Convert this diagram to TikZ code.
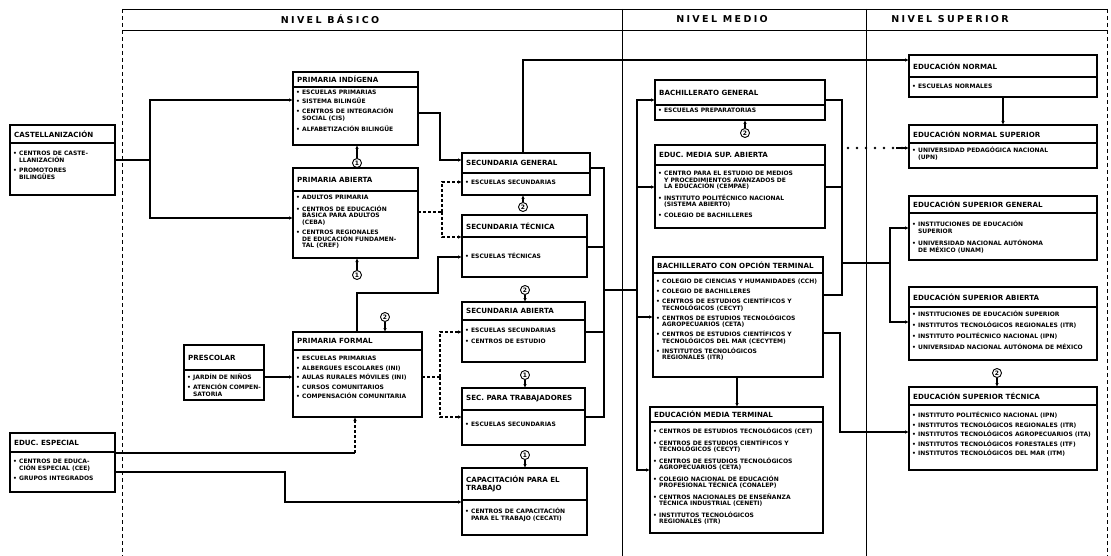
\documentclass[tikz,border=0pt]{standalone}
\usepackage{fontspec}
\setmainfont{DejaVu Sans}
\usetikzlibrary{arrows.meta,calc}
\newcommand\bu{\textbullet\ }
\newcommand\ind{\hphantom{\textbullet\ }}
\tikzset{
  ln/.style={line width=1.1pt},
  ar/.style={line width=1.1pt,-{Latex[length=4pt,width=3.5pt]}},
  dsh/.style={line width=1.1pt,dash pattern=on 3pt off 2pt},
  dar/.style={line width=1.1pt,dash pattern=on 3pt off 2pt,-{Latex[length=4pt,width=3.5pt]}},
  ebox/.style={draw,line width=1.1pt,inner sep=0pt,outer sep=0pt,anchor=north west},
  ttl/.style={anchor=west,inner sep=0pt,align=left,font=\fontsize{7.1}{8}\selectfont\bfseries},
  itm/.style={anchor=north west,inner sep=0pt,align=left,font=\fontsize{6}{6.5}\selectfont\bfseries},
  circ/.style={draw,circle,line width=0.9pt,inner sep=0pt,minimum size=9pt,font=\fontsize{6}{6}\selectfont\bfseries},
  hdr/.style={inner sep=0pt,font=\fontsize{9.5}{10}\selectfont\bfseries\addfontfeature{LetterSpace=25}},
  border/.style={line width=0.8pt},
  dots/.style={line width=2.6pt,line cap=round,dash pattern=on 0pt off 9pt}
}
% name, left, top, right, bottom, header line, title, items, item offset
\newcommand\ebx[9]{%
  \node[ebox,minimum width={(#4)-(#2)},minimum height={(#5)-(#3)}] (#1) at (#2,#3) {};
  \draw[ln] (#1.west |- 0,#6) -- (#1.east |- 0,#6);
  \node[ttl] (#1-t) at (#2+4,{(#3+#6)/2}) {#7};
  \node[itm] (#1-i) at (#2+3,#6+#9) {#8};
}
\begin{document}
\begin{tikzpicture}[x=1pt,y=-1pt]
\useasboundingbox (0,0) rectangle (1111,556);
% header and column borders
\draw[border] (122,9) -- (1107,9);
\draw[border] (122,30) -- (1107,30);
\draw[border,dash pattern=on 4pt off 3pt] (122,9) -- (122,556);
\draw[border] (622,9) -- (622,556);
\draw[border] (866,9) -- (866,556);
\draw[border,dash pattern=on 4pt off 3pt] (1107,9) -- (1107,556);
\node[hdr] (h1) at (330,19) {NIVEL BÁSICO};
\node[hdr] (h2) at (722,19) {NIVEL MEDIO};
\node[hdr] (h3) at (950,19) {NIVEL SUPERIOR};

% boxes
\ebx{cast}{10}{125}{115}{195}{143}{CASTELLANIZACIÓN}{\bu CENTROS DE CASTE-\\\ind LLANIZACIÓN\\[4pt]\bu PROMOTORES\\\ind BILINGÜES}{8}
\ebx{esp}{10}{433}{115}{492}{452}{EDUC. ESPECIAL}{\bu CENTROS DE EDUCA-\\\ind CIÓN ESPECIAL (CEE)\\[4pt]\bu GRUPOS INTEGRADOS}{7}
\ebx{pind}{293}{72}{418}{145}{87}{PRIMARIA INDÍGENA}{\bu ESCUELAS PRIMARIAS\\[2pt]\bu SISTEMA BILINGÜE\\[4pt]\bu CENTROS DE INTEGRACIÓN\\\ind SOCIAL (CIS)\\[5pt]\bu ALFABETIZACIÓN BILINGÜE}{3}
\ebx{pab}{293}{168}{418}{258}{191}{PRIMARIA ABIERTA}{\bu ADULTOS PRIMARIA\\[5pt]\bu CENTROS DE EDUCACIÓN\\\ind BÁSICA PARA ADULTOS\\\ind (CEBA)\\[4pt]\bu CENTROS REGIONALES\\\ind DE EDUCACIÓN FUNDAMEN-\\\ind TAL (CREF)}{4}
\ebx{pres}{184}{345}{264}{400}{370}{PRESCOLAR}{\bu JARDÍN DE NIÑOS\\[2pt]\bu ATENCIÓN COMPEN-\\\ind SATORIA}{4}
\ebx{pfor}{293}{332}{422}{417}{350}{PRIMARIA FORMAL}{\bu ESCUELAS PRIMARIAS\\[3pt]\bu ALBERGUES ESCOLARES (INI)\\[3pt]\bu AULAS RURALES MÓVILES (INI)\\[3pt]\bu CURSOS COMUNITARIOS\\[3pt]\bu COMPENSACIÓN COMUNITARIA}{6}
\ebx{sgen}{462}{153}{590}{195}{173}{SECUNDARIA GENERAL}{\bu ESCUELAS SECUNDARIAS}{7}
\ebx{stec}{462}{215}{587}{277}{237}{SECUNDARIA TÉCNICA}{\bu ESCUELAS TÉCNICAS}{16}
\ebx{sab}{462}{302}{585}{362}{320}{SECUNDARIA ABIERTA}{\bu ESCUELAS SECUNDARIAS\\[4pt]\bu CENTROS DE ESTUDIO}{8}
\ebx{stra}{462}{388}{585}{445}{410}{SEC. PARA TRABAJADORES}{\bu ESCUELAS SECUNDARIAS}{12}
\ebx{cap}{462}{468}{587}{535}{500}{CAPACITACIÓN PARA EL\\TRABAJO}{\bu CENTROS DE CAPACITACIÓN\\\ind PARA EL TRABAJO (CECATI)}{8}
\ebx{bgen}{655}{80}{825}{120}{105}{BACHILLERATO GENERAL}{\bu ESCUELAS PREPARATORIAS}{3}
\ebx{emsa}{655}{145}{825}{228}{165}{EDUC. MEDIA SUP. ABIERTA}{\bu CENTRO PARA EL ESTUDIO DE MEDIOS\\\ind Y PROCEDIMIENTOS AVANZADOS DE\\\ind LA EDUCACIÓN (CEMPAE)\\[5pt]\bu INSTITUTO POLITÉCNICO NACIONAL\\\ind (SISTEMA ABIERTO)\\[4pt]\bu COLEGIO DE BACHILLERES}{6}
\ebx{bot}{653}{257}{823}{377}{273}{BACHILLERATO CON OPCIÓN TERMINAL}{\bu COLEGIO DE CIENCIAS Y HUMANIDADES (CCH)\\[3.5pt]\bu COLEGIO DE BACHILLERES\\[3.5pt]\bu CENTROS DE ESTUDIOS CIENTÍFICOS Y\\\ind TECNOLÓGICOS (CECYT)\\[3.5pt]\bu CENTROS DE ESTUDIOS TECNOLÓGICOS\\\ind AGROPECUARIOS (CETA)\\[3.5pt]\bu CENTROS DE ESTUDIOS CIENTÍFICOS Y\\\ind TECNOLÓGICOS DEL MAR (CECYTEM)\\[3.5pt]\bu INSTITUTOS TECNOLÓGICOS\\\ind REGIONALES (ITR)}{6}
\ebx{emt}{650}{407}{823}{533}{422}{EDUCACIÓN MEDIA TERMINAL}{\bu CENTROS DE ESTUDIOS TECNOLÓGICOS (CET)\\[5pt]\bu CENTROS DE ESTUDIOS CIENTÍFICOS Y\\\ind TECNOLÓGICOS (CECYT)\\[5pt]\bu CENTROS DE ESTUDIOS TECNOLÓGICOS\\\ind AGROPECUARIOS (CETA)\\[5pt]\bu COLEGIO NACIONAL DE EDUCACIÓN\\\ind PROFESIONAL TÉCNICA (CONALEP)\\[5pt]\bu CENTROS NACIONALES DE ENSEÑANZA\\\ind TÉCNICA INDUSTRIAL (CENETI)\\[5pt]\bu INSTITUTOS TECNOLÓGICOS\\\ind REGIONALES (ITR)}{6}
\ebx{norm}{909}{55}{1097}{97}{77}{EDUCACIÓN NORMAL}{\bu ESCUELAS NORMALES}{7}
\ebx{nsup}{909}{125}{1097}{168}{143}{EDUCACIÓN NORMAL SUPERIOR}{\bu UNIVERSIDAD PEDAGÓGICA NACIONAL\\\ind (UPN)}{4}
\ebx{supg}{909}{196}{1097}{260}{213}{EDUCACIÓN SUPERIOR GENERAL}{\bu INSTITUCIONES DE EDUCACIÓN\\\ind SUPERIOR\\[6pt]\bu UNIVERSIDAD NACIONAL AUTÓNOMA\\\ind DE MÉXICO (UNAM)}{8}
\ebx{supa}{909}{287}{1097}{360}{307}{EDUCACIÓN SUPERIOR ABIERTA}{\bu INSTITUCIONES DE EDUCACIÓN SUPERIOR\\[4.5pt]\bu INSTITUTOS TECNOLÓGICOS REGIONALES (ITR)\\[4.5pt]\bu INSTITUTO POLITÉCNICO NACIONAL (IPN)\\[4.5pt]\bu UNIVERSIDAD NACIONAL AUTÓNOMA DE MÉXICO}{4}
\ebx{supt}{909}{387}{1097}{470}{405}{EDUCACIÓN SUPERIOR TÉCNICA}{\bu INSTITUTO POLITÉCNICO NACIONAL (IPN)\\[3pt]\bu INSTITUTOS TECNOLÓGICOS REGIONALES (ITR)\\[3pt]\bu INSTITUTOS TECNOLÓGICOS AGROPECUARIOS (ITA)\\[3pt]\bu INSTITUTOS TECNOLÓGICOS FORESTALES (ITF)\\[3pt]\bu INSTITUTOS TECNOLÓGICOS DEL MAR (ITM)}{7}

% circled numbers
\node[circ] (ca) at (357,163) {1};
\node[circ] (cb) at (357,275) {1};
\node[circ] (cc) at (385,317) {2};
\node[circ] (cd) at (523,207) {2};
\node[circ] (ce) at (525,290) {2};
\node[circ] (cf) at (525,375) {1};
\node[circ] (cg) at (525,455) {1};
\node[circ] (ch) at (745,133) {2};
\node[circ] (ci) at (997,373) {2};
\draw[ar] (ca) -- (ca |- pind.south);
\draw[ar] (cb) -- (cb |- pab.south);
\draw[ar] (cc) -- (cc |- pfor.north);
\draw[ar] (cd) -- (cd |- sgen.south);
\draw[ar] (ce) -- (ce |- sab.north);
\draw[ar] (cf) -- (cf |- stra.north);
\draw[ar] (cg) -- (cg |- cap.north);
\draw[ar] (ch) -- (ch |- bgen.south);
\draw[ar] (ci) -- (ci |- supt.north);

% left connectors
\coordinate (k1) at (150,160);
\draw[ln] (cast.east |- k1) -- (k1);
\draw[ar] (k1) |- (pind.west |- 0,100);
\draw[ar] (k1) |- (pab.west |- 0,218);
\draw[ar] (pind.east |- 0,113) -- (440,113) -- (440,160) -- (sgen.west |- 0,160);
\draw[dsh] (pab.east |- 0,212) -- (442,212);
\draw[dar] (442,212) |- (sgen.west |- 0,182);
\draw[dar] (442,212) |- (stec.west |- 0,237);
\draw[ar] (pfor.north -| 357,0) -- (357,293) -- (438,293) -- (438,257) -- (stec.west |- 0,257);
\draw[dsh] (pfor.east |- 0,377) -- (440,377);
\draw[dar] (440,377) |- (sab.west |- 0,332);
\draw[dar] (440,377) |- (stra.west |- 0,417);
\draw[ar] (pres.east |- 0,377) -- (pfor.west |- 0,377);
\draw[ln] (esp.east |- 0,453) -- (355,453);
\draw[dar] (355,453) -- (pfor.south -| 355,0);
\draw[ar] (esp.east |- 0,472) -- (285,472) -- (285,502) -- (cap.west |- 0,502);
\draw[ar] (sgen.north -| 523,0) -- (523,60) -- (norm.west |- 0,60);
% secundaria to medio
\draw[ln] (sgen.east |- 0,168) -- (604,168) -- (604,417) -- (stra.east |- 0,417);
\draw[ln] (stec.east |- 0,247) -- (604,247);
\draw[ln] (sab.east |- 0,332) -- (604,332);
\draw[ln] (604,290) -- (637,290);
\draw[ar] (637,290) |- (bgen.west |- 0,100);
\draw[ar] (637,290) |- (emsa.west |- 0,187);
\draw[ar] (637,290) |- (bot.west |- 0,317);
\draw[ar] (637,290) |- (emt.west |- 0,470);
\draw[ar] (bot.south -| 737,0) -- (emt.north -| 737,0);
% medio to superior
\draw[ln] (bgen.east |- 0,100) -- (842,100) -- (842,295) -- (bot.east |- 0,295);
\draw[ln] (emsa.east |- 0,187) -- (842,187);
\draw[ln] (842,263) -- (890,263);
\draw[ar] (890,263) |- (supg.west |- 0,228);
\draw[ar] (890,263) |- (supa.west |- 0,322);
\draw[dots] (848,148) -- (902,148);
\draw[ar] (896,148) -- (nsup.west |- 0,148);
\draw[ar] (bot.east |- 0,333) -- (840,333) -- (840,432) -- (supt.west |- 0,432);
\draw[ar] (norm.south -| 1003,0) -- (nsup.north -| 1003,0);
\end{tikzpicture}
\end{document}
